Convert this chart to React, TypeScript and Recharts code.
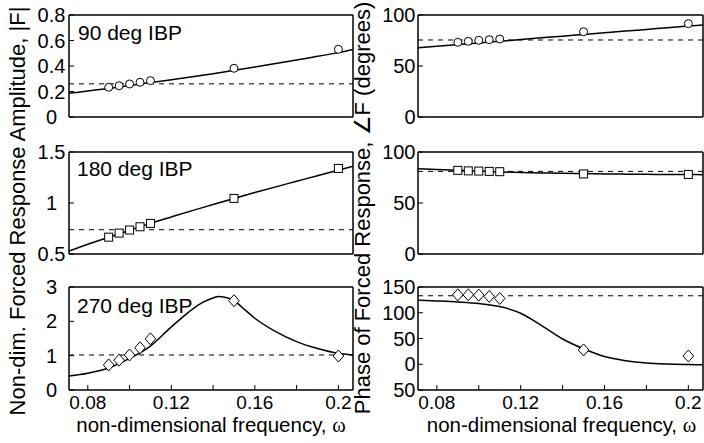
import React from 'react';
import { ComposedChart, Line, Scatter, XAxis, YAxis, ReferenceLine } from 'recharts';

const FONT = '"Liberation Sans", Arial, Helvetica, sans-serif';

// shared frequency data
const freq = [0.09, 0.095, 0.1, 0.105, 0.11, 0.15, 0.2];
const xTicks = [0.08, 0.1, 0.12, 0.14, 0.16, 0.18, 0.2];
const xTickLabels: Record<string, string> = { '0.08': '0.08', '0.12': '0.12', '0.16': '0.16', '0.2': '0.2' };
const xDomain: [number, number] = [0.071, 0.207];

// fit curve sample frequencies
const fitFreq = [0.071, 0.08, 0.09, 0.1, 0.11, 0.12, 0.13, 0.14, 0.15, 0.16, 0.17, 0.18, 0.19, 0.2, 0.207];
const peakFreq = [0.071, 0.08, 0.09, 0.1, 0.11, 0.12, 0.125, 0.13, 0.135, 0.14, 0.1425, 0.145, 0.15, 0.155, 0.16, 0.17, 0.18, 0.19, 0.2, 0.207];

// 90 deg IBP
const amp90Pts = [0.233, 0.245, 0.259, 0.272, 0.285, 0.382, 0.531];
const amp90Fit = [0.186, 0.204, 0.224, 0.247, 0.27, 0.292, 0.315, 0.34, 0.366, 0.392, 0.419, 0.447, 0.476, 0.505, 0.53];
const amp90Ref = 0.26;
const ph90Pts = [73.2, 74.2, 75.2, 75.8, 76.5, 83.6, 91.5];
const ph90Fit = [67.9, 69.4, 71, 72.6, 74.3, 75.9, 77.6, 79.2, 80.9, 82.5, 84.2, 85.8, 87.5, 89.1, 90.2];
const ph90Ref = 75.5;

// 180 deg IBP
const amp180Pts = [0.665, 0.705, 0.735, 0.767, 0.8, 1.045, 1.339];
const amp180Fit = [0.53, 0.595, 0.665, 0.732, 0.8, 0.863, 0.925, 0.985, 1.045, 1.102, 1.158, 1.213, 1.268, 1.322, 1.36];
const amp180Ref = 0.738;
const ph180Pts = [82, 81.5, 81.3, 81, 80.7, 78.5, 78];
const ph180Fit = [83.5, 82.8, 82, 81.2, 80.5, 80, 79.5, 79.1, 78.8, 78.5, 78.3, 78.1, 78, 77.9, 77.8];
const ph180Ref = 81;

// 270 deg IBP
const amp270Pts = [0.73, 0.87, 1.02, 1.23, 1.49, 2.6, 0.99];
const amp270Fit = [0.41, 0.49, 0.64, 0.92, 1.28, 1.84, 2.1, 2.35, 2.55, 2.68, 2.72, 2.71, 2.6, 2.35, 2.09, 1.7, 1.41, 1.21, 1.07, 1.02];
const amp270Ref = 1.02;
const ph270Pts = [134.8, 134.8, 134.2, 131.7, 127.8, 27.8, 16.1];
const ph270Fit = [124.5, 123, 121, 118, 112, 99, 75, 49, 30, 15, 7, 2.5, 0.5, -0.5, -1];
const ph270Ref = 133;

// y ticks
const yTicksA90 = [0, 0.2, 0.4, 0.6, 0.8];
const yTicksA180 = [0.5, 1, 1.5];
const yTicksA270 = [0, 1, 2, 3];
const yTicksPh = [0, 50, 100];
const yTicksPh270 = [-50, 0, 50, 100, 150];

function makeMarker(kind: string) {
  return (p: any) => {
    const { cx, cy } = p;
    if (cx == null || cy == null) return <g />;
    if (kind === 'circle') return <circle cx={cx} cy={cy} r={4} fill="#fff" stroke="#000" strokeWidth={1} />;
    if (kind === 'square') return <rect x={cx - 4} y={cy - 4} width={8} height={8} fill="#fff" stroke="#000" strokeWidth={1} />;
    return (
      <polygon
        points={`${cx},${cy - 6} ${cx + 5.3},${cy} ${cx},${cy + 6} ${cx - 5.3},${cy}`}
        fill="#fff"
        stroke="#000"
        strokeWidth={1}
      />
    );
  };
}

type PanelProps = {
  left: number;
  top: number;
  w: number;
  h: number;
  yDomain: [number, number];
  yTicks: number[];
  fitX: number[];
  fitY: number[];
  ptsY: number[];
  refY: number;
  marker: string;
  showX: boolean;
  col: 'L' | 'R';
  yFmt?: (v: number) => string;
};

function Panel(props: PanelProps) {
  const { left, top, w, h, yDomain, yTicks, fitX, fitY, ptsY, refY, marker, showX, col, yFmt } = props;
  const fit = fitX.map((x, i) => ({ x, y: fitY[i] }));
  const pts = freq.map((x, i) => ({ x, y: ptsY[i] }));
  const W = w + 70;
  const H = h + 50;
  const tickFont: any = { fill: '#000', fontSize: 20, fontFamily: FONT };
  const xTickFont: any = { fill: '#000', fontSize: 19, fontFamily: FONT };
  const axisLine = { stroke: '#000', strokeWidth: 1.5 };
  const tickLine = { stroke: '#000', strokeWidth: 1 };
  return (
    <div style={{ position: 'absolute', left: left - 60, top: top - 10 }}>
      <ComposedChart width={W} height={H} margin={{ top: 9, right: 9, bottom: 0, left: 0 }}>
        <XAxis
          xAxisId="b"
          type="number"
          dataKey="x"
          domain={xDomain}
          ticks={xTicks}
          interval={0}
          allowDataOverflow
          height={40}
          tickSize={-5}
          tickMargin={11}
          tickLine={tickLine}
          axisLine={axisLine}
          tick={showX ? xTickFont : false}
          tickFormatter={(v: number) => xTickLabels[String(v)] ?? ''}
        />
        <XAxis
          xAxisId="t"
          orientation="top"
          type="number"
          dataKey="x"
          domain={xDomain}
          ticks={xTicks}
          interval={0}
          allowDataOverflow
          height={1}
          tickSize={-5}
          tickLine={tickLine}
          axisLine={axisLine}
          tick={false}
        />
        <YAxis
          yAxisId="l"
          type="number"
          domain={yDomain}
          ticks={yTicks}
          interval={0}
          allowDataOverflow
          width={60}
          tickSize={-5}
          tickMargin={col === 'L' ? 22.5 : 7.5}
          tickLine={tickLine}
          axisLine={axisLine}
          tick={{ ...tickFont, textAnchor: col === 'L' ? 'middle' : 'end' }}
          tickFormatter={yFmt ?? ((v: number) => String(v))}
        />
        <YAxis
          yAxisId="r"
          orientation="right"
          type="number"
          domain={yDomain}
          ticks={yTicks}
          interval={0}
          allowDataOverflow
          width={1}
          tickSize={-5}
          tickLine={tickLine}
          axisLine={axisLine}
          tick={false}
        />
        <ReferenceLine xAxisId="b" yAxisId="l" y={refY} stroke="#000" strokeWidth={1} strokeDasharray="5 5" />
        <Line
          xAxisId="b"
          yAxisId="l"
          data={fit}
          dataKey="y"
          type="monotone"
          dot={false}
          activeDot={false}
          stroke="#000"
          strokeWidth={1.5}
          isAnimationActive={false}
        />
        <Scatter
          xAxisId="b"
          yAxisId="l"
          data={pts}
          dataKey="y"
          shape={makeMarker(marker)}
          isAnimationActive={false}
        />
      </ComposedChart>
    </div>
  );
}

const LX = 69;
const LW = 284;
const RX = 418;
const RW = 285;
const rows = [
  { top: 15, h: 102 },
  { top: 152, h: 102 },
  { top: 287, h: 103 },
];

export default function App() {
  return (
    <div
      style={{
        position: 'absolute',
        left: 0,
        top: 0,
        width: 704,
        height: 443,
        overflow: 'hidden',
        background: '#fff',
        fontFamily: FONT,
      }}
    >
      <Panel left={LX} top={rows[0].top} w={LW} h={rows[0].h} yDomain={[0, 0.8]} yTicks={yTicksA90}
        fitX={fitFreq} fitY={amp90Fit} ptsY={amp90Pts} refY={amp90Ref} marker="circle" showX={false} col="L" />
      <Panel left={RX} top={rows[0].top} w={RW} h={rows[0].h} yDomain={[0, 100]} yTicks={yTicksPh}
        fitX={fitFreq} fitY={ph90Fit} ptsY={ph90Pts} refY={ph90Ref} marker="circle" showX={false} col="R" />
      <Panel left={LX} top={rows[1].top} w={LW} h={rows[1].h} yDomain={[0.5, 1.5]} yTicks={yTicksA180}
        fitX={fitFreq} fitY={amp180Fit} ptsY={amp180Pts} refY={amp180Ref} marker="square" showX={false} col="L" />
      <Panel left={RX} top={rows[1].top} w={RW} h={rows[1].h} yDomain={[0, 100]} yTicks={yTicksPh}
        fitX={fitFreq} fitY={ph180Fit} ptsY={ph180Pts} refY={ph180Ref} marker="square" showX={false} col="R" />
      <Panel left={LX} top={rows[2].top} w={LW} h={rows[2].h} yDomain={[0, 3]} yTicks={yTicksA270}
        fitX={peakFreq} fitY={amp270Fit} ptsY={amp270Pts} refY={amp270Ref} marker="diamond" showX={true} col="L" />
      <Panel left={RX} top={rows[2].top} w={RW} h={rows[2].h} yDomain={[-50, 150]} yTicks={yTicksPh270}
        fitX={fitFreq} fitY={ph270Fit} ptsY={ph270Pts} refY={ph270Ref} marker="diamond" showX={true} col="R"
        yFmt={(v: number) => String(Math.abs(v))} />
      <svg width={704} height={443} style={{ position: 'absolute', left: 0, top: 0, pointerEvents: 'none' }}>
        <g fontFamily={FONT} fill="#000">
          <text x={78} y={40} fontSize={21}>90 deg IBP</text>
          <text x={77} y={176} fontSize={21}>180 deg IBP</text>
          <text x={77} y={313} fontSize={21}>270 deg IBP</text>
          <text x={25} y={211} fontSize={22} textAnchor="middle" transform="rotate(-90 25 211)">
            Non-dim. Forced Response Amplitude, |F|
          </text>
          <text x={370} y={208} fontSize={22} textAnchor="middle" transform="rotate(-90 370 208)">
            Phase of Forced Response, ∠F (degrees)
          </text>
          <text x={211} y={432} fontSize={20.5} textAnchor="middle">
            non-dimensional frequency, <tspan fontFamily='"Liberation Serif", serif'>ω</tspan>
          </text>
          <text x={561.5} y={432} fontSize={20.5} textAnchor="middle">
            non-dimensional frequency, <tspan fontFamily='"Liberation Serif", serif'>ω</tspan>
          </text>
        </g>
      </svg>
    </div>
  );
}
